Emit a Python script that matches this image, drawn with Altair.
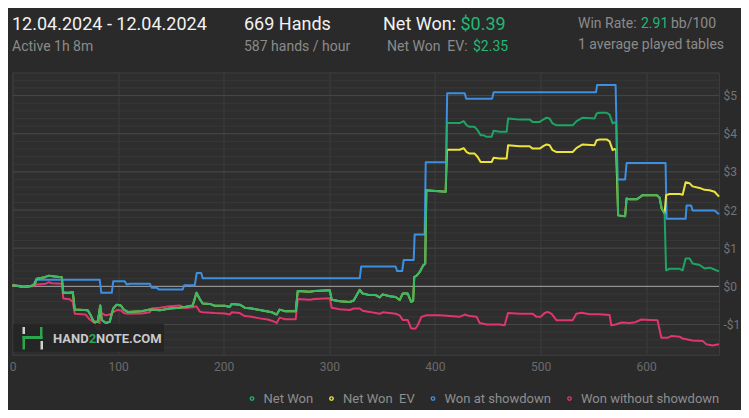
import altair as alt
import pandas as pd
import numpy as np

# ---------------- data (hand number, dollars) ----------------
showdown_hands = [0, 11.6, 19.2, 22.1, 82.6, 84.1, 94.0, 95.4, 106.3, 108.2, 111.0, 130.0, 131.9, 136.6, 138.5,
                  161.2, 162.6, 172.6, 174.5, 178.7, 180.1, 328.8, 330.2, 362.8, 364.3, 369.0, 370.4, 379.9,
                  380.8, 390.3, 391.3, 410.6, 411.6, 428.2, 429.6, 454.2, 455.6, 552.6, 553.6, 571.1, 573.0,
                  580.1, 581.5, 618.4, 619.4, 637.4, 638.3, 642.6, 644.0, 664.8, 669]
showdown_vals = [0.03, 0.0, 0.0, 0.17, 0.17, -0.17, -0.17, 0.13, 0.13, 0.05, 0.07, 0.07, -0.04, -0.04, -0.08,
                 -0.08, 0.03, 0.03, 0.35, 0.35, 0.21, 0.21, 0.52, 0.52, 0.40, 0.40, 0.69, 0.69,
                 1.36, 1.36, 3.25, 3.25, 5.06, 5.06, 4.92, 4.92, 5.09, 5.09, 5.28, 5.28, 2.80,
                 2.80, 3.23, 3.23, 1.77, 1.77, 2.12, 2.12, 1.99, 1.99, 1.89]

netwon_hands = [0, 6.9, 9.8, 16.4, 21.1, 23.0, 30.6, 34.4, 40.0, 46.7, 48.1, 54.2, 57.1, 59.0, 71.3, 74.1, 77.0,
                80.7, 83.1, 84.5, 88.3, 92.1, 94.0, 95.4, 98.7, 102.5, 105.4, 109.1, 122.4, 130.0, 139.4,
                148.9, 158.4, 163.1, 170.7, 174.2, 177.3, 180.1, 186.8, 191.5, 201.0, 205.7, 207.6, 215.2,
                219.9, 226.5, 234.1, 241.7, 245.5, 250.2, 253.0, 257.8, 268.2, 270.1, 281.4, 286.2, 300.4,
                302.3, 309.9, 319.3, 323.1, 328.8, 331.6, 338.2, 343.9, 347.7, 350.5, 357.2, 362.8, 366.6,
                369.5, 374.2, 377.5, 379.4, 380.4, 382.7, 385.5, 388.9, 390.8, 391.9, 400.7, 410.2, 411.4,
                423.4, 427.2, 430.1, 432.9, 437.6, 440.5, 443.3, 446.2, 449.0, 453.7, 455.6, 461.3, 467.9,
                469.3, 480.2, 489.7, 492.5, 499.2, 503.0, 505.8, 508.6, 511.4, 515.2, 530.4, 534.2, 539.9,
                551.2, 553.1, 556.0, 562.6, 565.4, 568.3, 570.1, 571.6, 573.5, 580.1, 581.5, 584.3, 590.9,
                593.8, 596.6, 609.9, 612.7, 614.7, 617.5, 618.9, 622.2, 631.7, 634.6, 637.4, 641.2, 644.0,
                650.6, 655.3, 660.1, 664.8, 669]
netwon_vals = [0.03, 0.0, -0.02, 0.0, 0.05, 0.20, 0.24, 0.28, 0.26, 0.24, -0.17, -0.17, -0.15, -0.61, -0.63, -0.76,
               -0.93, -0.93, -0.50, -0.88, -0.96, -0.93, -0.72, -0.58, -0.48, -0.50, -0.61, -0.67, -0.65, -0.61,
               -0.63, -0.58, -0.56, -0.54, -0.50, -0.17, -0.33, -0.45, -0.46, -0.51, -0.51, -0.54, -0.46, -0.48,
               -0.56, -0.58, -0.62, -0.66, -0.68, -0.74, -0.61, -0.65, -0.65, -0.12, -0.14, -0.12, -0.10,
               -0.35, -0.39, -0.41, -0.37, -0.09, -0.19, -0.23, -0.23, -0.29, -0.21, -0.26, -0.28, -0.36,
               -0.19, -0.19, -0.41, -0.38, 0.24, 0.28, 0.37, 0.55, 0.59, 2.52, 2.50, 2.48, 4.28,
               4.28, 4.33, 4.22, 4.18, 4.18, 4.09, 3.96, 3.96, 3.92, 3.92, 4.08, 4.05, 4.05,
               4.40, 4.37, 4.37, 4.31, 4.31, 4.38, 4.42, 4.40, 4.27, 4.22, 4.22, 4.33, 4.42,
               4.40, 4.53, 4.55, 4.55, 4.50, 4.27, 4.30, 4.28, 1.86, 1.84, 2.30, 2.28, 2.28,
               2.33, 2.39, 2.39, 2.33, 2.04, 1.91, 0.42, 0.46, 0.46, 0.42, 0.73, 0.73, 0.60,
               0.56, 0.47, 0.49, 0.44, 0.39]

ev_hands = [0, 6.9, 9.8, 16.4, 21.1, 23.0, 30.6, 34.4, 40.0, 46.7, 48.1, 54.2, 57.1, 59.0, 71.3, 74.1, 77.0,
            80.7, 83.1, 84.5, 88.3, 92.1, 94.0, 95.4, 98.7, 102.5, 105.4, 109.1, 122.4, 130.0, 139.4,
            148.9, 158.4, 163.1, 170.7, 174.2, 177.3, 180.1, 186.8, 191.5, 201.0, 205.7, 207.6, 215.2,
            219.9, 226.5, 234.1, 241.7, 245.5, 250.2, 253.0, 257.8, 268.2, 270.1, 281.4, 286.2, 300.4,
            302.3, 309.9, 319.3, 323.1, 328.8, 331.6, 338.2, 343.9, 347.7, 350.5, 357.2, 362.8, 366.6,
            369.5, 374.2, 377.5, 379.4, 380.4, 382.7, 385.5, 388.9, 390.8, 391.9, 400.7, 410.2, 411.4,
            423.4, 427.2, 430.1, 432.9, 437.6, 440.5, 443.3, 453.7, 455.6, 461.3, 467.9,
            469.3, 480.2, 489.7, 492.5, 499.2, 503.0, 505.8, 508.6, 511.4, 515.2, 530.4, 534.2, 539.9,
            551.2, 553.1, 556.0, 562.6, 565.4, 568.3, 570.1, 571.6, 573.5, 580.1, 581.5, 584.3, 590.9,
            593.8, 596.6, 609.9, 612.7, 614.7, 617.5, 618.9, 622.2, 631.7, 634.6, 637.4, 641.2, 644.0,
            650.6, 655.3, 660.1, 664.8, 669]
ev_vals = [0.03, 0.0, -0.02, 0.0, 0.05, 0.20, 0.24, 0.28, 0.26, 0.24, -0.17, -0.17, -0.15, -0.61, -0.63, -0.76,
           -0.93, -0.93, -0.50, -0.88, -0.96, -0.93, -0.72, -0.58, -0.48, -0.50, -0.61, -0.67, -0.65, -0.61,
           -0.63, -0.58, -0.56, -0.54, -0.50, -0.17, -0.33, -0.45, -0.46, -0.51, -0.51, -0.54, -0.46, -0.48,
           -0.56, -0.58, -0.62, -0.66, -0.68, -0.74, -0.61, -0.65, -0.65, -0.12, -0.14, -0.12, -0.10,
           -0.35, -0.39, -0.41, -0.37, -0.09, -0.19, -0.23, -0.23, -0.29, -0.21, -0.26, -0.28, -0.36,
           -0.19, -0.19, -0.41, -0.38, 0.24, 0.28, 0.37, 0.55, 0.59, 2.52, 2.50, 2.48, 3.58,
           3.58, 3.62, 3.52, 3.48, 3.48, 3.39, 3.26, 3.26, 3.37, 3.35, 3.35,
           3.70, 3.67, 3.67, 3.61, 3.61, 3.68, 3.72, 3.70, 3.57, 3.52, 3.52, 3.63, 3.72,
           3.70, 3.83, 3.85, 3.85, 3.80, 3.57, 3.60, 3.58, 1.86, 1.84, 2.30, 2.28, 2.28,
           2.33, 2.39, 2.39, 2.33, 2.04, 1.91, 2.39, 2.42, 2.42, 2.40, 2.73, 2.70, 2.62,
           2.58, 2.53, 2.52, 2.48, 2.35]

noshow_hands = [0, 9.8, 16.4, 21.1, 23.0, 31.5, 34.4, 37.2, 46.7, 48.1, 54.2, 57.1, 59.0, 69.4, 73.2, 77.9, 79.8,
                82.2, 83.1, 84.5, 88.3, 92.1, 95.4, 98.7, 102.5, 105.4, 109.1, 122.4, 130.0, 131.9, 139.4,
                148.9, 158.4, 163.1, 170.7, 174.2, 177.3, 180.1, 191.5, 201.0, 205.7, 207.6, 215.2, 219.9,
                226.5, 234.1, 241.7, 245.5, 250.2, 253.0, 257.8, 268.2, 270.1, 281.4, 286.2, 300.4, 302.3,
                309.9, 319.3, 323.1, 328.8, 331.6, 338.2, 347.7, 350.5, 357.2, 362.8, 366.6, 369.5, 374.2,
                377.5, 380.4, 381.8, 383.7, 387.2, 392.2, 404.5, 413.9, 423.4, 428.2, 432.9, 439.5, 442.4,
                449.0, 461.3, 466.0, 469.2, 480.2, 492.5, 496.3, 500.1, 503.9, 506.7, 510.5, 515.2, 530.4,
                533.9, 538.9, 546.5, 556.0, 565.4, 567.0, 571.1, 576.9, 584.3, 590.0, 595.4, 603.3, 610.8,
                614.4, 620.3, 624.2, 631.7, 634.6, 644.0, 653.5, 657.0, 662.9, 669]
noshow_vals = [0.03, -0.02, 0.0, 0.03, 0.05, 0.07, 0.11, 0.08, 0.07, -0.32, -0.34, -0.41, -0.72, -0.74, -0.87, -0.96,
               -1.11, -1.12, -0.62, -0.70, -0.76, -0.74, -0.68, -0.62, -0.63, -0.70, -0.72, -0.71, -0.68, -0.58,
               -0.56, -0.52, -0.50, -0.57, -0.55, -0.52, -0.66, -0.68, -0.70, -0.71, -0.74, -0.68, -0.70, -0.78,
               -0.80, -0.84, -0.87, -0.90, -0.96, -0.82, -0.86, -0.86, -0.33, -0.35, -0.33, -0.31, -0.56,
               -0.60, -0.62, -0.58, -0.58, -0.64, -0.67, -0.72, -0.68, -0.70, -0.72, -0.76, -0.88, -0.88,
               -1.10, -1.11, -1.10, -1.02, -0.80, -0.76, -0.76, -0.78, -0.80, -0.74, -0.78, -0.80, -0.96,
               -1.00, -1.00, -1.02, -0.70, -0.72, -0.72, -0.80, -0.80, -0.70, -0.67, -0.72, -0.89, -0.89,
               -0.72, -0.69, -0.73, -0.73, -0.75, -1.02, -1.00, -0.95, -0.96, -0.94, -0.87, -0.88, -0.89,
               -1.35, -1.35, -1.30, -1.32, -1.37, -1.42, -1.43, -1.52, -1.55, -1.52]

series_names = ["Net Won", "Net Won\u00a0 EV", "Won at showdown", "Won without showdown"]
series_colors = ["#1bb46b", "#ece43c", "#3d8fe2", "#e0366b"]

x_ticks = [0, 100, 200, 300, 400, 500, 600]
y_labels = [-1, 0, 1, 2, 3, 4, 5]
grid_minor = [round(v, 1) for v in np.arange(-18, 57, 2) / 10.0 if abs(v / 10.0 - round(v / 10.0)) > 0.01]
grid_major = [-1, 1, 2, 3, 4, 5]

# ---------------- build table ----------------
frames = []
for name, hs, vs in [(series_names[0], netwon_hands, netwon_vals),
                     (series_names[1], ev_hands, ev_vals),
                     (series_names[2], showdown_hands, showdown_vals),
                     (series_names[3], noshow_hands, noshow_vals)]:
    frames.append(pd.DataFrame({"hand": hs, "value": vs, "series": name}))
df = pd.concat(frames, ignore_index=True)

# plot-area geometry (page coords of plot origin)
OX, OY = 12.5, 72.7
W, H = 706.5, 282.3
TOTAL_W, TOTAL_H = 733, 402

FONT = "Roboto"
GRAY = "#8a8a8a"
GREEN_TXT = "#22b873"

x_scale = alt.Scale(domain=[0, 669], nice=False, zero=False)
y_scale = alt.Scale(domain=[-1.8, 5.6], nice=False, zero=False)

x_axis = alt.Axis(values=x_ticks, title=None, ticks=False, domain=False, grid=True,
                  gridColor="#3d3d3d", labelColor="#6a6a6a", labelFontSize=12, labelFont=FONT,
                  labelPadding=6, labelFlush=False)
y_axis = alt.Axis(values=y_labels, orient="right", title=None, ticks=False, domain=False, grid=False,
                  labelExpr="datum.value < 0 ? '-$' + abs(datum.value) : '$' + datum.value",
                  labelColor="#747474", labelFontSize=12, labelFont=FONT, labelPadding=4,
                  labelOverlap=False, labelFlush=False)

x_enc = alt.X("hand:Q", scale=x_scale, axis=x_axis)
y_enc = alt.Y("value:Q", scale=y_scale, axis=y_axis)
color_enc = alt.Color("series:N",
                      scale=alt.Scale(domain=series_names, range=series_colors),
                      legend=alt.Legend(orient="none", legendX=233, legendY=319, direction="horizontal",
                                        title=None, symbolType="circle", symbolSize=2, symbolStrokeWidth=3.5,
                                        labelColor="#8e8e8e", labelFontSize=13, labelFont=FONT,
                                        columnPadding=9.5, labelOffset=5, padding=0))

dummy = pd.DataFrame({"k": [0]})


def hrules(vals, color, width=1):
    return alt.Chart(pd.DataFrame({"value": vals})).mark_rule(color=color, strokeWidth=width).encode(
        y=alt.Y("value:Q", scale=y_scale, axis=y_axis))


grid_minor_layer = hrules(grid_minor, "#383838")
grid_major_layer = hrules(grid_major, "#474747")
zero_layer = hrules([0], "#a8a8a8")


def series_layer(name, width=2.0, opacity=1.0):
    return (alt.Chart(df).transform_filter(alt.datum.series == name)
            .mark_line(strokeWidth=width, opacity=opacity, strokeJoin="round")
            .encode(x=x_enc, y=y_enc, color=color_enc))


def txt(s, px, py, size, color, weight="normal"):
    return alt.Chart(dummy).mark_text(text=s, align="left", baseline="middle", font=FONT,
                                      fontSize=size, color=color, fontWeight=weight).encode(
        x=alt.value(px - OX), y=alt.value(py - OY))


def box(x1, y1, x2, y2, color, opacity=1.0):
    return alt.Chart(dummy).mark_rect(color=color, opacity=opacity).encode(
        x=alt.value(x1 - OX), x2=alt.value(x2 - OX), y=alt.value(y1 - OY), y2=alt.value(y2 - OY))


header = [
    txt("12.04.2024 - 12.04.2024", 12, 25, 18, "#f2f2f2"),
    txt("Active 1h 8m", 12, 47, 14, GRAY),
    txt("669 Hands", 244, 25, 18, "#f2f2f2"),
    txt("587 hands / hour", 244, 47, 14, GRAY),
    txt("Net Won:", 383, 25, 18, "#f2f2f2"),
    txt("$0.39", 460.5, 25, 18, GREEN_TXT),
    txt("Net Won\u00a0 EV:", 387, 47, 14, GRAY),
    txt("$2.35", 473, 47, 14, GREEN_TXT),
    txt("Win Rate:", 578, 24, 14, GRAY),
    txt("2.91", 641, 24, 14, GREEN_TXT),
    txt("bb/100", 671, 24, 14, GRAY),
    txt("1 average played tables", 578, 45, 14, GRAY),
]

logo = [
    box(13.3, 324, 164, 351.7, "#252525", 0.92),
    box(22.5, 327, 25, 334, "#d0d0d0"),
    box(22.5, 336, 25, 349.5, "#2aa64c"),
    box(22.5, 336, 42.5, 339, "#2aa64c"),
    box(40, 327, 42.5, 339, "#2aa64c"),
    box(40.5, 341, 43, 349.5, "#d0d0d0"),
    txt("HAND", 53, 338.5, 13, "#c9c9c9", "bold"),
    txt("2", 88.8, 338.5, 13, "#2aa64c", "bold"),
    txt("NOTE.COM", 96, 338.5, 13, "#c9c9c9", "bold"),
]

chart = alt.layer(
    grid_minor_layer,
    grid_major_layer,
    zero_layer,
    series_layer(series_names[2]),
    series_layer(series_names[3]),
    series_layer(series_names[1]),
    series_layer(series_names[0], opacity=0.88),
    *logo,
    *header,
).properties(
    width=W, height=H,
    autosize=alt.AutoSizeParams(type="none"),
    padding={"left": OX - 8, "top": OY - 8, "right": TOTAL_W - (OX - 8) - W,
             "bottom": TOTAL_H - (OY - 8) - H},
    background="#2a2a2a",
).configure_view(fill="#2e2e2e", stroke="#3c3c3c", strokeWidth=1)

chart.save("out.html", embed_options={"renderer": "svg", "actions": False})
